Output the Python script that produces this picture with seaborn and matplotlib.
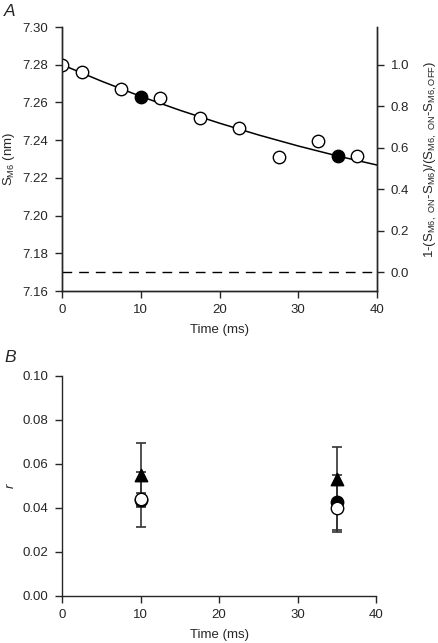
import numpy as np
import pandas as pd
import matplotlib
matplotlib.use("Agg")
import matplotlib.pyplot as plt
import seaborn as sns

# ---- data ----
# panel A: S_M6 vs time
t_open = [0, 2.5, 7.5, 12.5, 17.5, 22.5, 27.5, 32.5, 37.5]
s_open = [7.2800, 7.2763, 7.2671, 7.2625, 7.2517, 7.2464, 7.2309, 7.2395, 7.2314]
t_filled = [10, 35]
s_filled = [7.2627, 7.2314]
# fitted curve
t_fit = [0, 5, 10, 15, 20, 25, 30, 35, 40]
s_fit = [7.2800, 7.2713, 7.2632, 7.2558, 7.2490, 7.2427, 7.2369, 7.2316, 7.2268]
s_on = 7.28
s_off = 7.17

# panel B: r vs time
t_b = [10, 35]
r_tri = [0.0549, 0.0530]
r_tri_err = [0.0146, 0.0147]
r_fill = [0.0437, 0.0426]
r_fill_err = [0.0030, 0.0125]
r_open = [0.0439, 0.0400]
r_open_err = [0.0125, 0.0111]

sns.set_theme(style="ticks")
plt.rcParams['font.family'] = ['Liberation Sans', 'DejaVu Sans']
plt.rcParams['mathtext.default'] = 'regular'
plt.rcParams['axes.linewidth'] = 1.0
plt.rcParams['xtick.major.width'] = 1.0
plt.rcParams['ytick.major.width'] = 1.0
plt.rcParams['xtick.major.size'] = 5
plt.rcParams['ytick.major.size'] = 5
plt.rcParams['xtick.major.pad'] = 4.5
plt.rcParams['ytick.major.pad'] = 5
plt.rcParams['xtick.labelsize'] = 9.5
plt.rcParams['ytick.labelsize'] = 9.5
plt.rcParams['axes.labelsize'] = 9.5

fig = plt.figure(figsize=(4.38, 6.43), dpi=100)
W, H = 438, 643
axA = fig.add_axes([62 / W, 1 - 291 / H, (377 - 62) / W, (291 - 27) / H])
axB = fig.add_axes([62 / W, 1 - 596 / H, (376 - 62) / W, (596 - 376) / H])

# ---- panel A ----
fit_df = pd.DataFrame({"t": t_fit, "s": s_fit})
sns.lineplot(data=fit_df, x="t", y="s", ax=axA, color="black", lw=1.1)
axA.axhline(s_off, color="black", lw=1.0, ls=(0, (7, 5)))
sns.scatterplot(x=t_open, y=s_open, ax=axA, marker="o", s=80,
                facecolor="white", edgecolor="black", linewidth=1.0, zorder=3)
sns.scatterplot(x=t_filled, y=s_filled, ax=axA, marker="o", s=80,
                color="black", edgecolor="black", linewidth=1.0, zorder=3)
axA.set_xlim(0, 40)
axA.set_ylim(7.16, 7.30)
axA.set_xticks(np.arange(0, 41, 10))
axA.set_yticks(np.arange(7.16, 7.301, 0.02))
axA.set_yticklabels([f"{v:.2f}" for v in np.arange(7.16, 7.301, 0.02)])
axA.set_xlabel("Time (ms)", labelpad=5.5)
axA.set_ylabel("S$_{M6}$ (nm)")
axA.yaxis.set_label_coords(-0.143, 0.5)
axA.spines["top"].set_visible(False)
for sp in axA.spines.values():
    sp.set_clip_on(False)

axR = axA.twinx()
axR.set_position(axA.get_position())
lo = (7.16 - s_off) / (s_on - s_off)
hi = (7.30 - s_off) / (s_on - s_off)
axR.set_ylim(lo, hi)
axR.set_yticks(np.arange(0, 1.01, 0.2))
axR.set_yticklabels([f"{v:.1f}" for v in np.arange(0, 1.01, 0.2)])
axR.spines["top"].set_visible(False)
axR.set_ylabel("1-(S$_{M6,\\ ON}$-S$_{M6}$)/(S$_{M6,\\ ON}$-S$_{M6,OFF}$)")
axR.yaxis.set_label_coords((423 - 62) / 315, 0.5)

# ---- panel B ----
for y, e, kw in [
    (r_tri, r_tri_err, dict(marker="^", color="black", edgecolor="black")),
    (r_fill, r_fill_err, dict(marker="o", color="black", edgecolor="black")),
    (r_open, r_open_err, dict(marker="o", facecolor="white", edgecolor="black")),
]:
    axB.errorbar(t_b, y, yerr=e, fmt="none", ecolor="#333333", elinewidth=1.2,
                 capsize=3.5, capthick=1.2, zorder=2)
    sns.scatterplot(x=t_b, y=y, ax=axB, s=80, linewidth=1.0, zorder=3, **kw)

axB.set_xlim(0, 40)
axB.set_ylim(0, 0.10)
axB.set_xticks(np.arange(0, 41, 10))
axB.set_yticks(np.arange(0, 0.101, 0.02))
axB.set_yticklabels([f"{v:.2f}" for v in np.arange(0, 0.101, 0.02)])
axB.set_xlabel("Time (ms)", labelpad=5.5)
axB.set_ylabel("r", style="italic")
axB.yaxis.set_label_coords(-0.143, 0.5)
sns.despine(ax=axB)
for sp in axB.spines.values():
    sp.set_clip_on(False)

fig.text(4 / W, 1 - 12 / H, "A", fontsize=12.5, style="italic", va="center", ha="left")
fig.text(4 / W, 1 - 358 / H, "B", fontsize=12.5, style="italic", va="center", ha="left")

fig.savefig("out.png", dpi=100)
